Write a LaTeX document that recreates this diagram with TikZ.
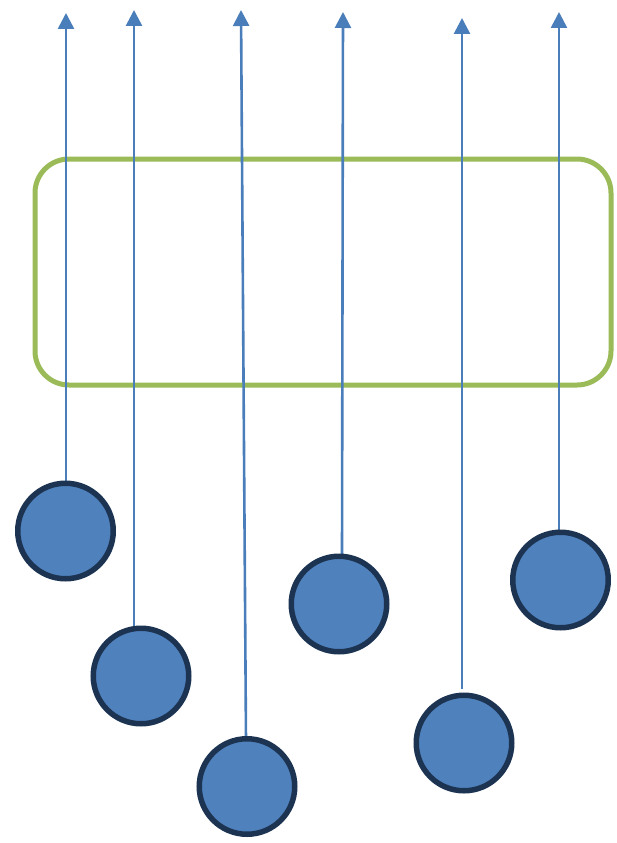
\documentclass[tikz,border=0pt]{standalone}
\usetikzlibrary{arrows.meta}
\definecolor{lineblue}{HTML}{4A7EBB}
\definecolor{ballfill}{HTML}{4F81BD}
\definecolor{balledge}{HTML}{1C3452}
\definecolor{boxgreen}{HTML}{9BBB59}
\begin{document}
\begin{tikzpicture}[x=1pt,y=-1pt,
  ball/.style={circle,draw=balledge,fill=ballfill,line width=5.5pt,minimum size=95.5pt,inner sep=0pt},
  wire/.style={draw=lineblue,line width=2.6pt,-{Triangle[length=16pt,width=16pt]}},
  frame/.style={draw=boxgreen,line width=5pt,rounded corners=34pt}]
\useasboundingbox (0,0) rectangle (616,843);
\node[frame,minimum width=576pt,minimum height=226pt,anchor=north west,inner sep=0pt] (box) at (32.5,156.5) {};
% wire end coordinates
\coordinate (b1) at (66,481);  \coordinate (t1) at (66,13);
\coordinate (b2) at (134,628); \coordinate (t2) at (134,10);
\coordinate (b3) at (246,741); \coordinate (t3) at (241,10);
\coordinate (b4) at (342,557); \coordinate (t4) at (343,12);
\coordinate (b5) at (462,689); \coordinate (t5) at (462,18);
\coordinate (b6) at (559,530); \coordinate (t6) at (559,12);
\foreach \i in {1,...,6} { \draw[wire] (b\i) -- (t\i); }
\node[ball] (c1) at (65.5,531) {};
\node[ball] (c2) at (141,676) {};
\node[ball] (c3) at (247,786.5) {};
\node[ball] (c4) at (339,604) {};
\node[ball] (c5) at (464,743) {};
\node[ball] (c6) at (560.5,580) {};
\end{tikzpicture}
\end{document}
